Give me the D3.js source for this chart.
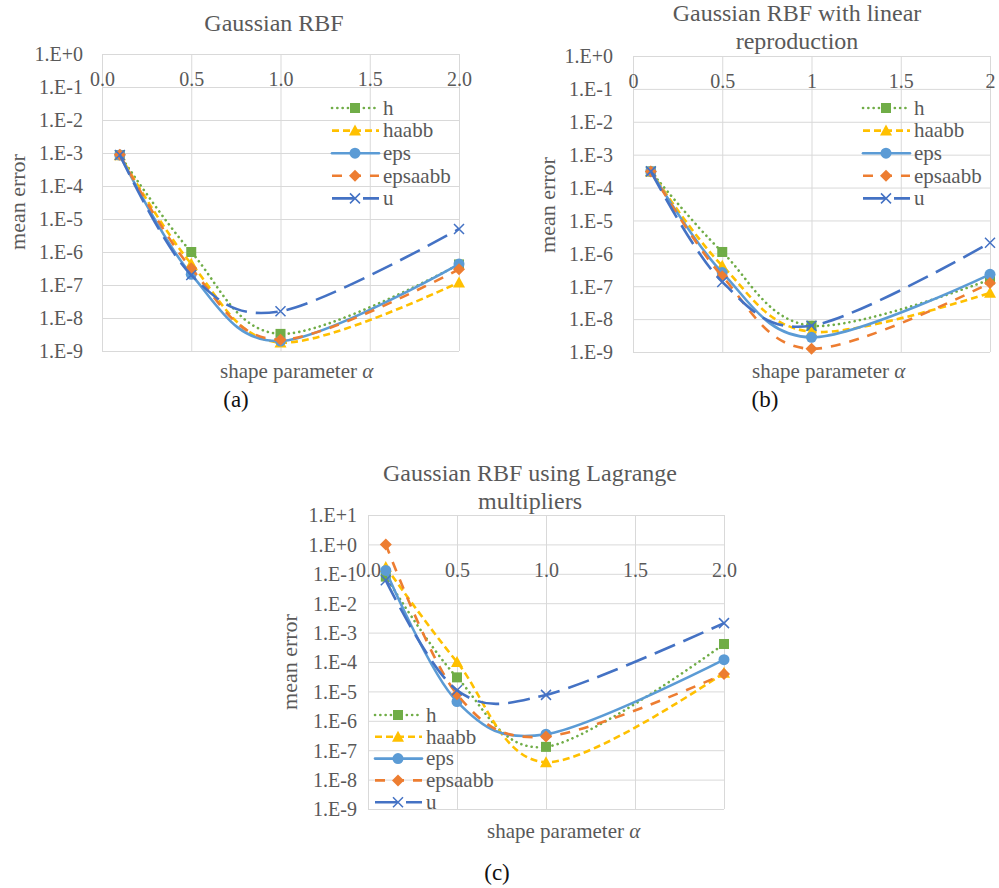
<!DOCTYPE html>
<html><head><meta charset="utf-8">
<script src="https://cdn.jsdelivr.net/npm/d3@7"></script>
<style>
body{margin:0;background:#fff}
</style>
</head><body>
<svg id="chart" width="999" height="888" font-family="'Liberation Serif', 'Times New Roman', serif"></svg>
<script>
// ---------- data ----------
const alphas = [0.1, 0.5, 1.0, 2.0];
const seriesNames = ["h", "haabb", "eps", "epsaabb", "u"];
const xTicks = [0, 0.5, 1.0, 1.5, 2.0];
const yExpAB = [0, -1, -2, -3, -4, -5, -6, -7, -8, -9];
const yExpC = [1, 0, -1, -2, -3, -4, -5, -6, -7, -8, -9];

// (a) Gaussian RBF
const aH       = [8.7e-4, 1.0e-6, 3.3e-9, 4.2e-7];
const aHaabb   = [8.6e-4, 4.4e-7, 1.8e-9, 1.2e-7];
const aEps     = [8.7e-4, 2.1e-7, 2.0e-9, 4.3e-7];
const aEpsaabb = [8.8e-4, 3.2e-7, 2.2e-9, 3.0e-7];
const aU       = [8.7e-4, 2.0e-7, 1.6e-8, 5.0e-6];

// (b) Gaussian RBF with linear reproduction
const bH       = [3.1e-4, 1.1e-6, 6.3e-9, 1.6e-7];
const bHaabb   = [3.1e-4, 4.2e-7, 4.1e-9, 6.3e-8];
const bEps     = [3.1e-4, 2.6e-7, 2.8e-9, 2.3e-7];
const bEpsaabb = [3.1e-4, 2.0e-7, 1.25e-9, 1.25e-7];
const bU       = [3.1e-4, 1.35e-7, 6.3e-9, 2.1e-6];

// (c) Gaussian RBF using Lagrange multipliers
const cH       = [0.08, 3.0e-5, 1.3e-7, 4.1e-4];
const cHaabb   = [0.17, 1.0e-4, 3.9e-8, 4.3e-5];
const cEps     = [0.13, 4.5e-6, 3.5e-7, 1.2e-4];
const cEpsaabb = [1.0, 8.0e-6, 2.9e-7, 3.9e-5];
const cU       = [0.06, 1.1e-5, 7.6e-6, 2.1e-3];

// ---------- styles ----------
const styles = {
  h:       {color: "#70AD47", dash: "0.1,5.2", cap: "round", marker: "square"},
  haabb:   {color: "#FFC000", dash: "7,4",     cap: "butt",  marker: "triangle"},
  eps:     {color: "#5B9BD5", dash: null,      cap: "round", marker: "circle"},
  epsaabb: {color: "#ED7D31", dash: "10,9",    cap: "butt",  marker: "diamond"},
  u:       {color: "#4472C4", dash: "22,9",    cap: "butt",  marker: "x"}
};
const textColor = "#595959";
const gridColor = "#d9d9d9";
const serif = "'Liberation Serif', 'Times New Roman', serif";

const svg = d3.select("#chart");

function drawMarker(g, type, x, y, color) {
  if (type === "square") {
    g.append("rect").attr("x", x - 5).attr("y", y - 5).attr("width", 10).attr("height", 10).attr("fill", color);
  } else if (type === "triangle") {
    g.append("path").attr("d", `M${x},${y-6}L${x+6},${y+5}L${x-6},${y+5}Z`).attr("fill", color);
  } else if (type === "circle") {
    g.append("circle").attr("cx", x).attr("cy", y).attr("r", 5.5).attr("fill", color);
  } else if (type === "diamond") {
    g.append("path").attr("d", `M${x},${y-6}L${x+6},${y}L${x},${y+6}L${x-6},${y}Z`).attr("fill", color);
  } else if (type === "x") {
    g.append("path").attr("d", `M${x-5},${y-5}L${x+5},${y+5}M${x-5},${y+5}L${x+5},${y-5}`)
      .attr("stroke", color).attr("stroke-width", 1.5).attr("fill", "none");
  }
}

function drawPanel(p) {
  const g = svg.append("g");
  const x = d3.scaleLinear().domain([0, 2]).range([p.left, p.right]);
  const y = d3.scaleLog().domain([Math.pow(10, p.exps[p.exps.length - 1]), Math.pow(10, p.exps[0])]).range([p.bottom, p.top]);
  const yVals = p.exps.map(e => Math.pow(10, e));
  const w = p.right - p.left, h = p.bottom - p.top;

  // horizontal grid
  const gy = g.append("g").attr("transform", `translate(${p.left},0)`)
    .call(d3.axisLeft(y).tickValues(yVals).tickSize(-w).tickFormat(""));
  gy.select(".domain").remove();
  gy.selectAll("line").attr("stroke", gridColor).attr("stroke-width", 1);

  // vertical grid
  const gx = g.append("g").attr("transform", `translate(0,${p.bottom})`)
    .call(d3.axisBottom(x).tickValues(xTicks).tickSize(-h).tickFormat(""));
  gx.select(".domain").remove();
  gx.selectAll("line").attr("stroke", gridColor).attr("stroke-width", 1);

  // y tick labels
  const yl = g.append("g").attr("transform", `translate(${p.left},0)`)
    .call(d3.axisLeft(y).tickValues(yVals).tickSize(0).tickPadding(p.left - p.yTickRight)
      .tickFormat(v => { const e = Math.round(Math.log10(v)); return "1.E" + (e >= 0 ? "+" + e : e); }));
  yl.select(".domain").remove();
  yl.attr("font-family", serif).attr("font-size", 20);
  yl.selectAll("text").attr("fill", textColor).attr("dy", "0.34em");

  // x tick labels at value 1
  const xl = g.append("g").attr("transform", `translate(0,${y(1)})`)
    .call(d3.axisBottom(x).tickValues(xTicks).tickSize(0).tickPadding(18).tickFormat(p.xFmt));
  xl.select(".domain").remove();
  xl.attr("font-family", serif).attr("font-size", 20);
  xl.selectAll("text").attr("fill", textColor);

  // series
  const line = d3.line().x(d => x(d[0])).y(d => y(d[1])).curve(d3.curveCatmullRom.alpha(0));
  seriesNames.forEach((name, i) => {
    const st = styles[name];
    const pts = alphas.map((a, k) => [a, p.data[i][k]]);
    g.append("path").attr("d", line(pts)).attr("fill", "none").attr("stroke", st.color)
      .attr("stroke-width", 2.6).attr("stroke-dasharray", st.dash).attr("stroke-linecap", st.cap)
      .attr("stroke-linejoin", "round");
    const mg = g.append("g");
    pts.forEach(d => drawMarker(mg, st.marker, x(d[0]), y(d[1]), st.color));
  });

  // legend
  seriesNames.forEach((name, i) => {
    const st = styles[name];
    const ly = p.legendY + i * p.legendStep;
    g.append("line").attr("x1", p.legendX).attr("x2", p.legendX + 47).attr("y1", ly).attr("y2", ly)
      .attr("stroke", st.color).attr("stroke-width", 2.6).attr("stroke-dasharray", st.dash)
      .attr("stroke-linecap", st.cap);
    drawMarker(g, st.marker, p.legendX + 23, ly, st.color);
    g.append("text").attr("x", p.legendX + 51).attr("y", ly).attr("dy", "0.32em")
      .attr("fill", textColor).attr("font-family", serif).attr("font-size", 21).text(name);
  });

  // title
  p.title.forEach((t, i) => {
    g.append("text").attr("x", p.titleX).attr("y", p.titleY[i]).attr("text-anchor", "middle")
      .attr("fill", textColor).attr("font-family", serif).attr("font-size", 24).text(t);
  });

  // y-axis title
  g.append("text").attr("transform", `translate(${p.yTitleX},${p.yTitleY}) rotate(-90)`)
    .attr("text-anchor", "middle").attr("dy", "0.32em").attr("fill", textColor)
    .attr("font-family", serif).attr("font-size", 22).text("mean error");

  // x-axis title
  const xt = g.append("text").attr("x", p.xTitleX).attr("y", p.xTitleY).attr("fill", textColor)
    .attr("font-family", serif).attr("font-size", 21);
  xt.append("tspan").text("shape parameter ");
  xt.append("tspan").attr("font-style", "italic").text("α");

  // caption
  g.append("text").attr("x", p.capX).attr("y", p.capY).attr("text-anchor", "middle")
    .attr("fill", "#111").attr("font-family", serif).attr("font-size", 23).text(p.caption);
}

drawPanel({
  left: 102, right: 459, top: 54, bottom: 351, exps: yExpAB,
  xFmt: d => d.toFixed(1), data: [aH, aHaabb, aEps, aEpsaabb, aU],
  title: ["Gaussian RBF"], titleX: 274, titleY: [31],
  yTickRight: 83, yTitleX: 18, yTitleY: 202,
  xTitleX: 220, xTitleY: 378,
  legendX: 332, legendY: 108, legendStep: 22.6,
  caption: "(a)", capX: 236, capY: 407
});

drawPanel({
  left: 633, right: 990, top: 56, bottom: 352, exps: yExpAB,
  xFmt: d => d3.format("")(d), data: [bH, bHaabb, bEps, bEpsaabb, bU],
  title: ["Gaussian RBF with linear", "reproduction"], titleX: 797, titleY: [21, 49],
  yTickRight: 613, yTitleX: 548, yTitleY: 205,
  xTitleX: 752, xTitleY: 378,
  legendX: 863, legendY: 108, legendStep: 22.6,
  caption: "(b)", capX: 765, capY: 407
});

drawPanel({
  left: 368, right: 724, top: 515, bottom: 809, exps: yExpC,
  xFmt: d => d.toFixed(1), data: [cH, cHaabb, cEps, cEpsaabb, cU],
  title: ["Gaussian RBF using Lagrange", "multipliers"], titleX: 530, titleY: [481, 509],
  yTickRight: 357, yTitleX: 290, yTitleY: 662,
  xTitleX: 487, xTitleY: 838,
  legendX: 375, legendY: 715, legendStep: 21.8,
  caption: "(c)", capX: 497, capY: 880
});
</script>
</body></html>
